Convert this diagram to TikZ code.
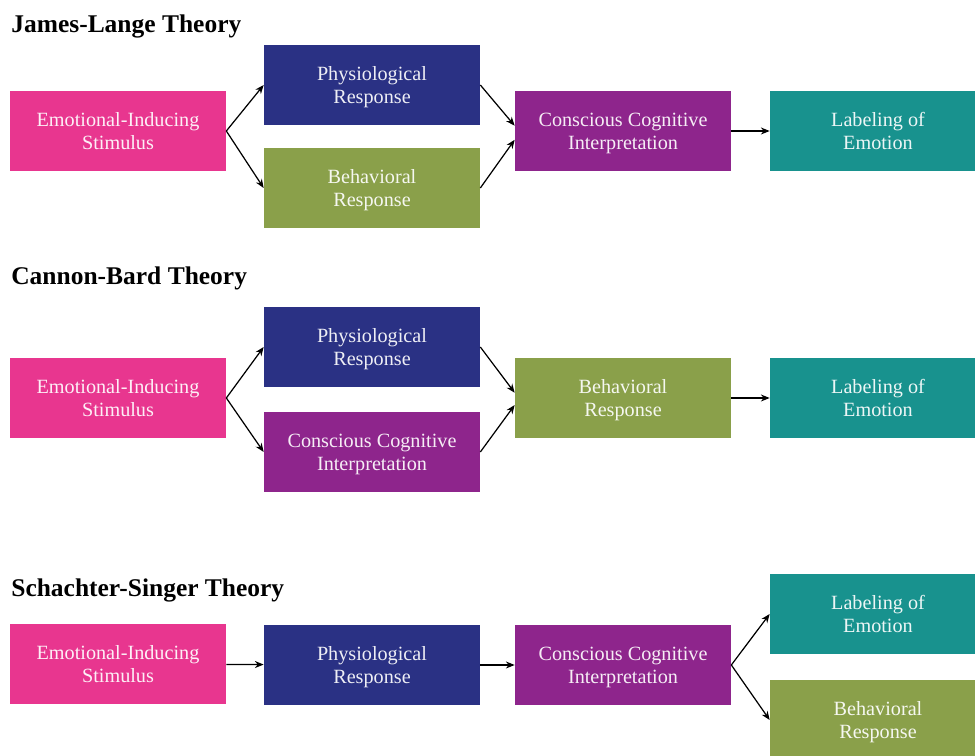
\documentclass[tikz,border=0pt]{standalone}
\usepackage{fontspec}
\setmainfont{Liberation Serif}
\usetikzlibrary{arrows.meta}

\definecolor{stimpink}{RGB}{232,54,143}
\definecolor{physblue}{RGB}{42,49,132}
\definecolor{behavgreen}{RGB}{138,160,74}
\definecolor{cogpurple}{RGB}{142,37,140}
\definecolor{labelteal}{RGB}{24,146,142}

\begin{document}
\begin{tikzpicture}[x=0.02cm, y=-0.02cm,
    box/.style={minimum width=4.32cm, minimum height=1.62cm, inner sep=0pt,
      align=center, text=white, text opacity=0.92, text depth=-2.5pt,
      font=\fontsize{11.5}{13}\selectfont},
    title/.style={anchor=base west, inner sep=0pt, font=\fontsize{14.5}{16}\selectfont\bfseries},
    arr/.style={-{Stealth[length=5pt,width=4pt]}, line width=0.7pt}]
  \useasboundingbox (0,0) rectangle (975,756);

  % James-Lange
  \node[title] (jl) at (11,33) {James-Lange Theory};
  \node[box, fill=stimpink] (stimA) at (118,131) {Emotional-Inducing\\Stimulus};
  \node[box, fill=physblue] (physA) at (372,85) {Physiological\\Response};
  \node[box, fill=behavgreen] (behavA) at (372,188) {Behavioral\\Response};
  \node[box, fill=cogpurple] (cogA) at (623,131) {Conscious Cognitive\\Interpretation};
  \node[box, fill=labelteal] (labA) at (878,131) {Labeling of\\Emotion};
  \draw[arr] (stimA.east) -- (physA.west);
  \draw[arr] (stimA.east) -- (behavA.west);
  \draw[arr] (physA.east) -- ([yshift=3pt]cogA.west);
  \draw[arr] (behavA.east) -- ([yshift=-5pt]cogA.west);
  \draw[arr] (cogA) -- (labA);

  % Cannon-Bard
  \node[title] (cb) at (11,285) {Cannon-Bard Theory};
  \node[box, fill=stimpink] (stimB) at (118,398) {Emotional-Inducing\\Stimulus};
  \node[box, fill=physblue] (physB) at (372,347) {Physiological\\Response};
  \node[box, fill=cogpurple] (cogB) at (372,452) {Conscious Cognitive\\Interpretation};
  \node[box, fill=behavgreen] (behavB) at (623,398) {Behavioral\\Response};
  \node[box, fill=labelteal] (labB) at (878,398) {Labeling of\\Emotion};
  \draw[arr] (stimB.east) -- (physB.west);
  \draw[arr] (stimB.east) -- (cogB.west);
  \draw[arr] (physB.east) -- ([yshift=3pt]behavB.west);
  \draw[arr] (cogB.east) -- ([yshift=-4pt]behavB.west);
  \draw[arr] (behavB) -- (labB);

  % Schachter-Singer
  \node[title] (ss) at (11,597) {Schachter-Singer Theory};
  \node[box, fill=stimpink] (stimC) at (118,664) {Emotional-Inducing\\Stimulus};
  \node[box, fill=physblue] (physC) at (372,665) {Physiological\\Response};
  \node[box, fill=cogpurple] (cogC) at (623,665) {Conscious Cognitive\\Interpretation};
  \node[box, fill=labelteal] (labC) at (878,614) {Labeling of\\Emotion};
  \node[box, fill=behavgreen] (behavC) at (878,720) {Behavioral\\Response};
  \draw[arr] (stimC) -- (physC);
  \draw[arr] (physC) -- (cogC);
  \draw[arr] (cogC.east) -- (labC.west);
  \draw[arr] (cogC.east) -- (behavC.west);
\end{tikzpicture}
\end{document}
